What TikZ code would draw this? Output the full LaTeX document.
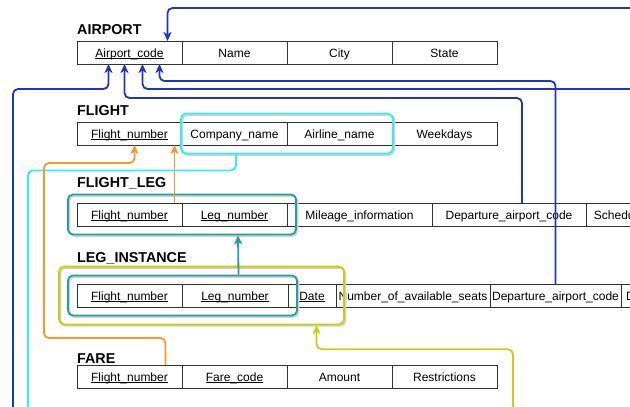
\documentclass[tikz,border=0pt]{standalone}
\usepackage{fontspec}
\setmainfont{Liberation Sans}
\usepackage{xcolor}
\usepackage{tikz}
\usetikzlibrary{arrows.meta,positioning,fit,calc}

\definecolor{fkblue}{RGB}{34,51,204}
\definecolor{fkcyan}{RGB}{51,238,238}
\definecolor{fkorange}{RGB}{255,150,40}
\definecolor{fkteal}{RGB}{32,160,160}
\definecolor{fkyellow}{RGB}{204,204,17}
\newcommand{\ukey}[1]{\underline{\smash{#1}}}

\begin{document}
\begin{tikzpicture}[x=1pt,y=-1pt,font=\fontsize{12}{14}\selectfont,
  cell/.style={draw=black!80,line width=0.8pt,minimum height=23pt,minimum width=105pt,
    inner sep=0pt,outer sep=0pt,text height=10pt,text depth=1pt},
  relname/.style={anchor=base west,inner sep=0pt,font=\bfseries\fontsize{14.3}{16}\selectfont},
  shadowed/.style={preaction={draw=black!18,line width=1.8pt,
    transform canvas={xshift=1.4pt,yshift=-1.4pt}}},
  keybox/.style={draw,line width=1.8pt,rounded corners=5pt,inner xsep=9pt,inner ysep=8.5pt,shadowed},
  fkline/.style={line width=1.8pt,rounded corners=5pt,-{Stealth[length=9pt,width=8pt,inset=2.5pt]}},
  fkplain/.style={line width=1.8pt,rounded corners=5pt}]
\useasboundingbox (0,0) rectangle (630,407);
\clip (0,0) rectangle (630,407);

% AIRPORT
\node[relname] (airport) at (77,34) {AIRPORT};
\node[cell,anchor=north west] (apcode) at (77,41) {\ukey{Airport\_code}};
\node[cell,right=0pt of apcode] (apname) {Name};
\node[cell,right=0pt of apname] (apcity) {City};
\node[cell,right=0pt of apcity] (apstate) {State};

% FLIGHT
\node[relname] (flight) at (77,115) {FLIGHT};
\node[cell,anchor=north west] (flnum) at (77,122) {\ukey{Flight\_number}};
\node[cell,right=0pt of flnum] (flcomp) {Company\_name};
\node[cell,right=0pt of flcomp] (flair) {Airline\_name};
\node[cell,right=0pt of flair] (flweek) {Weekdays};

% FLIGHT_LEG
\node[relname] (flightleg) at (77,187) {FLIGHT\_LEG};
\node[cell,anchor=north west] (lgfnum) at (77,203) {\ukey{Flight\_number}};
\node[cell,right=0pt of lgfnum] (lglnum) {\ukey{Leg\_number}};
\node[cell,right=0pt of lglnum,minimum width=145pt] (lgmile) {Mileage\_information};
\node[cell,right=0pt of lgmile,minimum width=154pt] (lgdep) {Departure\_airport\_code};
\node[cell,right=0pt of lgdep,minimum width=160pt] (lgsched) {Scheduled\_departure\_time};

% LEG_INSTANCE
\node[relname] (leginst) at (77,262) {LEG\_INSTANCE};
\node[cell,anchor=north west] (lifnum) at (77,284) {\ukey{Flight\_number}};
\node[cell,right=0pt of lifnum,minimum width=106pt] (lilnum) {\ukey{Leg\_number}};
\node[cell,right=0pt of lilnum,minimum width=48pt] (lidate) {\ukey{Date}};
\node[cell,right=0pt of lidate,minimum width=154pt] (liseats) {Number\_of\_available\_seats};
\node[cell,right=0pt of liseats,minimum width=131pt] (lidep) {Departure\_airport\_code};
\node[cell,right=0pt of lidep,minimum width=93pt] (lidept) {Departure\_time};

% FARE
\node[relname] (fare) at (77,363) {FARE};
\node[cell,anchor=north west] (fafnum) at (77,365) {\ukey{Flight\_number}};
\node[cell,right=0pt of fafnum] (facode) {\ukey{Fare\_code}};
\node[cell,right=0pt of facode] (faamt) {Amount};
\node[cell,right=0pt of faamt] (farestr) {Restrictions};

% key groups
\node[keybox,draw=fkcyan,inner xsep=1pt,fit=(flcomp)(flair)] (flkey) {};
\node[keybox,draw=fkteal,fit=(lgfnum)(lglnum)] (lgkey) {};
\node[keybox,draw=fkteal,fit=(lifnum)(lilnum)] (likey) {};
\node[keybox,draw=fkyellow,inner xsep=8pt,inner ysep=8pt,fit=(likey)(lidate)] (lidkey) {};

% free ends
\coordinate (apin) at (632,8);
\coordinate (arrin) at (632,89);
\coordinate (fain) at (13,409);
\coordinate (cyout) at (28,409);
\coordinate (orleft) at (44,338);
\coordinate (yelin) at (513,409);

% references to AIRPORT
\draw[fkline,fkblue] (apin) -| ([xshift=38pt]apcode.north);
\draw[fkline,fkblue] (lidep.north) |- ([xshift=30pt,yshift=-17pt]apcode.south) -- ([xshift=30pt]apcode.south);
\draw[fkline,fkblue] (arrin) -| ([xshift=13pt]apcode.south);
\draw[fkline,fkblue] ([xshift=13pt]lgdep.north) |- ([xshift=-5pt,yshift=-34pt]apcode.south) -- ([xshift=-5pt]apcode.south);
\draw[fkline,fkblue] (fain) |- ([xshift=-21pt,yshift=-25pt]apcode.south) -- ([xshift=-21pt]apcode.south);

% references to FLIGHT
\draw[fkplain,fkcyan] ([xshift=-51pt]flkey.south) -- ++(0,16) -| (cyout);
\draw[fkline,fkorange] ([xshift=36pt]fafnum.north) |- (orleft) |- ([xshift=5pt,yshift=-18pt]flnum.south) -- ([xshift=5pt]flnum.south);
\draw[fkline,fkorange] ([xshift=45pt]lgfnum.north) -- ([xshift=45pt]flnum.south);

% references to legs
\draw[fkline,fkteal] ([xshift=56pt]likey.north) -- ([xshift=56pt]lgkey.south);
\draw[fkline,fkyellow] (yelin) |- ([xshift=115pt,yshift=-24pt]lidkey.south) -- ([xshift=115pt]lidkey.south);
\end{tikzpicture}
\end{document}
